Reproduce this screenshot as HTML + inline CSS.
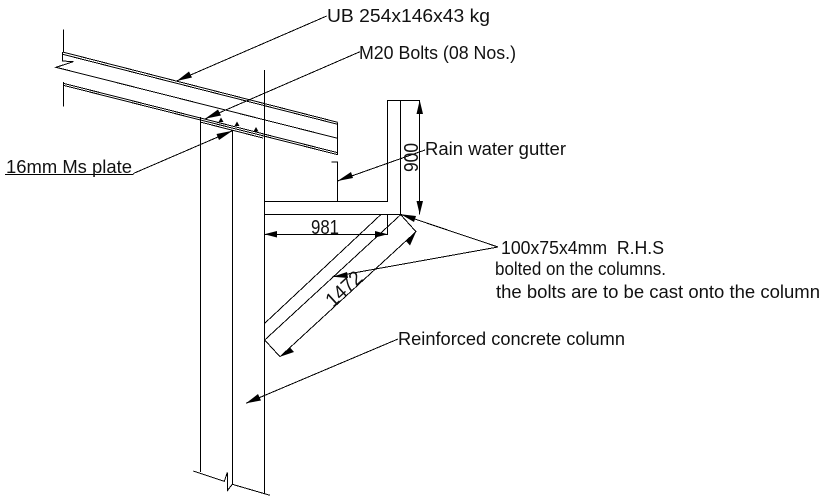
<!DOCTYPE html>
<html>
<head>
<meta charset="utf-8">
<style>
html,body{margin:0;padding:0;background:#fff;width:827px;height:502px;overflow:hidden}
svg{display:block}
text{font-family:"Liberation Sans",sans-serif;font-size:18.5px;fill:#111}
.d{font-size:20px}
.l{stroke:#000;stroke-width:1;fill:none;shape-rendering:crispEdges}
.t{stroke:#000;stroke-width:1;fill:none;shape-rendering:crispEdges}
.a{fill:#000;stroke:none}
</style>
</head>
<body>
<svg width="827" height="502" viewBox="0 0 827 502" xmlns="http://www.w3.org/2000/svg">
<!-- beam -->
<path class="l" d="M63.3 29.3V52M62.7 52V61L73.3 61.7L56 67.3L337.7 138.3M63.3 82V106.7M62.7 52L337.7 122.3M62.7 54.3L337.7 124.3M63.3 83.3L337.7 152.7M63.3 85.3L337.7 154.7M337.7 122.3V155M200 122L263 138"/>
<!-- column -->
<path class="l" d="M200.7 117V472M232.3 131V484.3M264.3 70V494M193.3 471L224.3 481.3L227.3 472.7V490.7L232.3 484.3L270 495.3"/>
<!-- gutter -->
<path class="l" d="M264.3 201.3H387.7V100.3H420M400.7 100.3V214.3M264.3 214.3H400.7M331.7 162H337.5V201.3M387.7 214.3V235"/>
<!-- brace -->
<path class="t" d="M380.7 214.7L264.7 323.3M400.7 214.7L264.7 340"/>
<path class="t" d="M400.7 214.7L416 231.7L280 356.7L264.7 340"/>
<!-- dimensions -->
<path class="l" d="M419.7 100.3V214.3M264.3 234.3H387.7"/>
<!-- leaders -->
<path class="t" d="M326.7 16L176.7 81M360 51.7L205 119M133.3 173.5L232.5 130.7M5 174.5H133.3M425 150L337.5 181M498 247L400.7 214.3M498 247L332.7 276.7M398 339L246 403.3"/>
<!-- arrowheads -->
<g class="a">
<polygon points="176.7,81 189,71.5 192,77.5"/>
<polygon points="205,118.7 218,109.5 221,115.5"/>
<polygon points="232.5,130.7 219,140 216.5,134"/>
<polygon points="337.5,181 351,172 353,178"/>
<polygon points="400.7,214.3 416,216 414,222"/>
<polygon points="332.7,276.7 347,272 348,278"/>
<polygon points="246,403.3 258,394 261,400.5"/>
<polygon points="419.7,100.3 416.5,114 423,114"/>
<polygon points="419.7,214.3 416.5,201 423,201"/>
<polygon points="264.3,234.3 277,231 277,237.5"/>
<polygon points="387.7,234.3 375,231 375,237.5"/>
<polygon points="416,231.7 406,241 410,245.5"/>
<polygon points="280,356.7 290,347.5 294,352"/>
<polygon points="221,117.5 223.5,122 218.5,122"/>
<polygon points="237,121.5 239.5,126 234.5,126"/>
<polygon points="256,127 258.5,131.5 253.5,131.5"/>
</g>
<!-- labels -->
<text x="327" y="22" textLength="163" lengthAdjust="spacingAndGlyphs">UB 254x146x43 kg</text>
<text x="359" y="59" textLength="157" lengthAdjust="spacingAndGlyphs">M20 Bolts (08 Nos.)</text>
<text x="6" y="173" textLength="126" lengthAdjust="spacingAndGlyphs">16mm Ms plate</text>
<text x="425" y="155" textLength="141" lengthAdjust="spacingAndGlyphs">Rain water gutter</text>
<text x="501" y="254" textLength="163" lengthAdjust="spacingAndGlyphs" xml:space="preserve">100x75x4mm  R.H.S</text>
<text x="495" y="275" textLength="171" lengthAdjust="spacingAndGlyphs">bolted on the columns.</text>
<text x="496" y="298" textLength="324" lengthAdjust="spacingAndGlyphs">the bolts are to be cast onto the column</text>
<text x="398" y="345" textLength="227" lengthAdjust="spacingAndGlyphs">Reinforced concrete column</text>
<text class="d" x="311" y="234" textLength="28" lengthAdjust="spacingAndGlyphs">981</text>
<text class="d" transform="translate(418 172) rotate(-90)" textLength="29" lengthAdjust="spacingAndGlyphs">900</text>
<text class="d" transform="translate(333 308) rotate(-42.6)" textLength="42" lengthAdjust="spacingAndGlyphs">1472</text>
</svg>
</body>
</html>
